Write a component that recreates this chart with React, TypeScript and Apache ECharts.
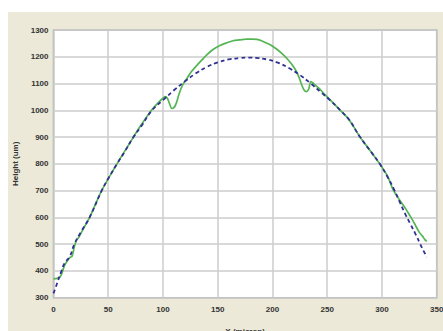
import React, { useEffect, useRef } from "react";
import * as echarts from "echarts";

const xTicks = [0, 50, 100, 150, 200, 250, 300, 350];
const yTicks = [300, 400, 500, 600, 700, 800, 900, 1000, 1100, 1200, 1300];

const measuredX = [0, 3, 6, 8, 10, 13, 15, 17, 19, 21, 23, 27, 33, 44, 58, 73, 80, 90, 96, 100, 102, 104, 106, 108, 110, 112, 115, 118, 122, 126, 131, 136, 140, 146, 152, 158, 164, 170, 176, 182, 186, 190, 194, 198, 204, 210, 214, 218, 222, 225, 227, 229, 231, 233, 234, 235, 237, 239, 243, 247, 252, 262, 270, 280, 290, 298, 305, 310, 315, 319, 322, 325, 328, 331, 334, 337, 339, 341];
const measuredY = [370, 372, 378, 395, 420, 440, 450, 455, 490, 515, 525, 555, 600, 700, 800, 900, 945, 1003, 1030, 1045, 1051, 1045, 1025, 1007, 1010, 1025, 1065, 1095, 1120, 1145, 1168, 1190, 1207, 1228, 1242, 1252, 1260, 1263, 1266, 1266, 1265, 1260, 1252, 1245, 1228, 1207, 1190, 1170, 1144, 1115, 1092, 1075, 1070, 1078, 1095, 1107, 1102, 1094, 1080, 1062, 1042, 1000, 965, 900, 845, 800, 755, 705, 672, 648, 630, 610, 590, 567, 545, 530, 518, 510];

const fitX = [0, 3, 7, 10, 15, 19, 25, 33, 44, 50, 58, 65, 73, 80, 90, 100, 110, 120, 130, 140, 150, 160, 170, 178, 185, 195, 205, 215, 225, 235, 245, 252, 262, 270, 280, 290, 298, 305, 311, 316, 321, 326, 331, 335, 338, 341];
const fitY = [316, 350, 397, 428, 455, 500, 545, 600, 700, 745, 800, 845, 900, 940, 1000, 1038, 1075, 1108, 1138, 1162, 1179, 1190, 1195, 1197, 1196, 1190, 1178, 1158, 1132, 1100, 1065, 1040, 1000, 965, 900, 845, 800, 752, 705, 660, 615, 575, 535, 500, 475, 452];

export default function App() {
  const ref = useRef<HTMLDivElement>(null);
  useEffect(() => {
    if (!ref.current) return;
    const chart = echarts.init(ref.current, undefined, { renderer: "svg" });
    const font = "Liberation Sans, Arial, sans-serif";
    const plain = (v: number) => String(v);
    chart.setOption({
      animation: false,
      backgroundColor: "#ece9d8",
      grid: {
        left: 45.5,
        top: 18,
        right: 6.3,
        bottom: 33.3,
        outerBoundsMode: "none",
        containLabel: false,
        show: true,
        backgroundColor: "#ffffff",
        borderColor: "#a8a8a8",
        borderWidth: 1.5,
      },
      xAxis: {
        type: "value",
        min: xTicks[0],
        max: xTicks[xTicks.length - 1],
        interval: 50,
        name: "X (micron)",
        nameLocation: "middle",
        nameGap: 30,
        nameTextStyle: { fontFamily: font, fontSize: 8, color: "#333", fontWeight: "bold" },
        axisLine: { show: false },
        axisTick: { show: false },
        axisLabel: { margin: 8, fontFamily: font, fontSize: 8, color: "#333", fontWeight: "bold", formatter: plain },
        splitLine: { show: true, lineStyle: { color: "#cccccc", width: 1.5 } },
      },
      yAxis: {
        type: "value",
        min: yTicks[0],
        max: yTicks[yTicks.length - 1],
        interval: 100,
        name: "Height (um)",
        nameLocation: "middle",
        nameGap: 32,
        nameTextStyle: { fontFamily: font, fontSize: 8, color: "#333", fontWeight: "bold" },
        axisLine: { show: false },
        axisTick: { show: false },
        axisLabel: { margin: 5, fontFamily: font, fontSize: 8, color: "#333", fontWeight: "bold", formatter: plain },
        splitLine: { show: true, lineStyle: { color: "#cccccc", width: 1.5 } },
      },
      series: [
        {
          type: "line",
          data: measuredX.map((x, i) => [x, measuredY[i]]),
          showSymbol: false,
          smooth: 0.3,
          lineStyle: { color: "#55b555", width: 1.7 },
        },
        {
          type: "line",
          data: fitX.map((x, i) => [x, fitY[i]]),
          showSymbol: false,
          smooth: 0.4,
          lineStyle: { color: "#303193", width: 1.8, type: [4, 3] },
        },
      ],
    });
    return () => chart.dispose();
  }, []);
  return (
    <div
      ref={ref}
      style={{ position: "absolute", left: 8, top: 12, width: 435, height: 319 }}
    />
  );
}
